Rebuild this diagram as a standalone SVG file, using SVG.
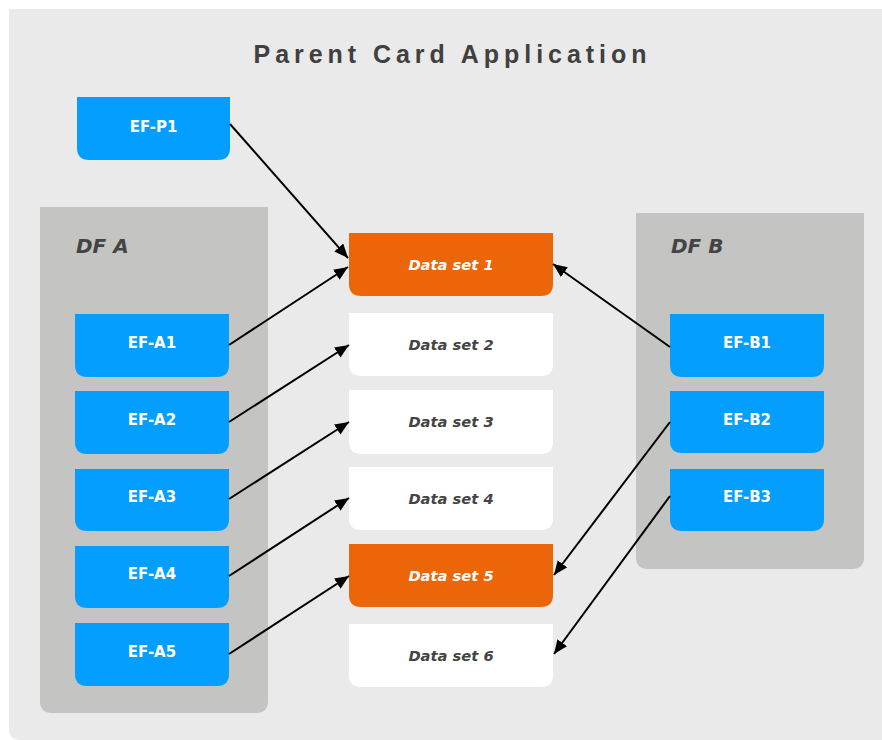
<svg xmlns="http://www.w3.org/2000/svg" width="882" height="740" viewBox="0 0 882 740">
  <style>
    .ef { fill: #049ffe; }
    .ef-t { fill: #ffffff; font-family: "DejaVu Sans", sans-serif; font-weight: bold; font-size: 15px; text-anchor: middle; }
    .ds-o { fill: #ec6609; }
    .ds-w { fill: #ffffff; }
    .ds-t { font-family: "DejaVu Sans", sans-serif; font-weight: bold; font-style: italic; font-size: 14.7px; text-anchor: middle; }
    .ds-to { fill: #ffffff; }
    .ds-tw { fill: #444444; }
    .df { fill: #c4c4c2; }
    .df-t { fill: #444444; font-family: "DejaVu Sans", sans-serif; font-weight: bold; font-style: italic; font-size: 20px; }
    .title { fill: #404040; font-family: "Liberation Sans", Arial, sans-serif; font-weight: bold; font-size: 25px; text-anchor: middle; }
    .conn { stroke: #000000; stroke-width: 2; fill: none; marker-end: url(#arrow); }
  </style>
  <defs>
    <marker id="arrow" markerUnits="userSpaceOnUse" markerWidth="16" markerHeight="14" refX="14" refY="6" orient="auto">
      <path d="M0,0 L14,6 L0,12 Z" fill="#000000"/>
    </marker>
  </defs>

  <!-- page -->
  <rect x="0" y="0" width="882" height="740" fill="#ffffff"/>
  <path d="M9,9 H882 V740 H20 Q9,740 9,729 Z" fill="#eaeaea"/>

  <text class="title" x="450" y="63" textLength="393" lengthAdjust="spacing">Parent Card Application</text>

  <!-- DF A panel -->
  <g id="df-a">
    <path class="df" d="M40,207 H268 V701 Q268,713 256,713 H52 Q40,713 40,701 Z"/>
    <text class="df-t" x="76" y="253">DF A</text>
  </g>

  <!-- DF B panel -->
  <g id="df-b">
    <path class="df" d="M636,213 H864 V557 Q864,569 852,569 H648 Q636,569 636,557 Z"/>
    <text class="df-t" x="671" y="253">DF B</text>
  </g>

  <!-- elementary files -->
  <g id="ef-p1">
    <path class="ef" d="M77,97 H230 V148 Q230,160 218,160 H89 Q77,160 77,148 Z"/>
    <text class="ef-t" x="153.5" y="132">EF-P1</text>
  </g>
  <g id="ef-a1">
    <path class="ef" d="M75,314 H229 V365 Q229,377 217,377 H87 Q75,377 75,365 Z"/>
    <text class="ef-t" x="152" y="348">EF-A1</text>
  </g>
  <g id="ef-a2">
    <path class="ef" d="M75,391 H229 V442 Q229,454 217,454 H87 Q75,454 75,442 Z"/>
    <text class="ef-t" x="152" y="425">EF-A2</text>
  </g>
  <g id="ef-a3">
    <path class="ef" d="M75,469 H229 V519 Q229,531 217,531 H87 Q75,531 75,519 Z"/>
    <text class="ef-t" x="152" y="502">EF-A3</text>
  </g>
  <g id="ef-a4">
    <path class="ef" d="M75,546 H229 V596 Q229,608 217,608 H87 Q75,608 75,596 Z"/>
    <text class="ef-t" x="152" y="579">EF-A4</text>
  </g>
  <g id="ef-a5">
    <path class="ef" d="M75,623 H229 V674 Q229,686 217,686 H87 Q75,686 75,674 Z"/>
    <text class="ef-t" x="152" y="657">EF-A5</text>
  </g>
  <g id="ef-b1">
    <path class="ef" d="M670,314 H824 V365 Q824,377 812,377 H682 Q670,377 670,365 Z"/>
    <text class="ef-t" x="747" y="348">EF-B1</text>
  </g>
  <g id="ef-b2">
    <path class="ef" d="M670,391 H824 V441 Q824,453 812,453 H682 Q670,453 670,441 Z"/>
    <text class="ef-t" x="747" y="425">EF-B2</text>
  </g>
  <g id="ef-b3">
    <path class="ef" d="M670,469 H824 V519 Q824,531 812,531 H682 Q670,531 670,519 Z"/>
    <text class="ef-t" x="747" y="502">EF-B3</text>
  </g>

  <!-- data sets -->
  <g id="ds1">
    <path class="ds-o" d="M349,233 H553 V284 Q553,296 541,296 H361 Q349,296 349,284 Z"/>
    <text class="ds-t ds-to" x="451" y="270">Data set 1</text>
  </g>
  <g id="ds2">
    <path class="ds-w" d="M349,313 H553 V364 Q553,376 541,376 H361 Q349,376 349,364 Z"/>
    <text class="ds-t ds-tw" x="451" y="350">Data set 2</text>
  </g>
  <g id="ds3">
    <path class="ds-w" d="M349,390 H553 V442 Q553,454 541,454 H361 Q349,454 349,442 Z"/>
    <text class="ds-t ds-tw" x="451" y="427">Data set 3</text>
  </g>
  <g id="ds4">
    <path class="ds-w" d="M349,467 H553 V518 Q553,530 541,530 H361 Q349,530 349,518 Z"/>
    <text class="ds-t ds-tw" x="451" y="504">Data set 4</text>
  </g>
  <g id="ds5">
    <path class="ds-o" d="M349,544 H553 V595 Q553,607 541,607 H361 Q349,607 349,595 Z"/>
    <text class="ds-t ds-to" x="451" y="581">Data set 5</text>
  </g>
  <g id="ds6">
    <path class="ds-w" d="M349,624 H553 V675 Q553,687 541,687 H361 Q349,687 349,675 Z"/>
    <text class="ds-t ds-tw" x="451" y="661">Data set 6</text>
  </g>

  <!-- connectors -->
  <g id="connectors">
    <line class="conn" x1="230" y1="124" x2="348" y2="258"/>
    <line class="conn" x1="229" y1="345" x2="348" y2="267"/>
    <line class="conn" x1="229" y1="422" x2="349" y2="345"/>
    <line class="conn" x1="229" y1="499" x2="349" y2="422"/>
    <line class="conn" x1="229" y1="576" x2="349" y2="498"/>
    <line class="conn" x1="229" y1="654" x2="349" y2="576"/>
    <line class="conn" x1="670" y1="347" x2="553" y2="264"/>
    <line class="conn" x1="670" y1="422" x2="554" y2="575"/>
    <line class="conn" x1="670" y1="496" x2="554" y2="654"/>
  </g>
</svg>
